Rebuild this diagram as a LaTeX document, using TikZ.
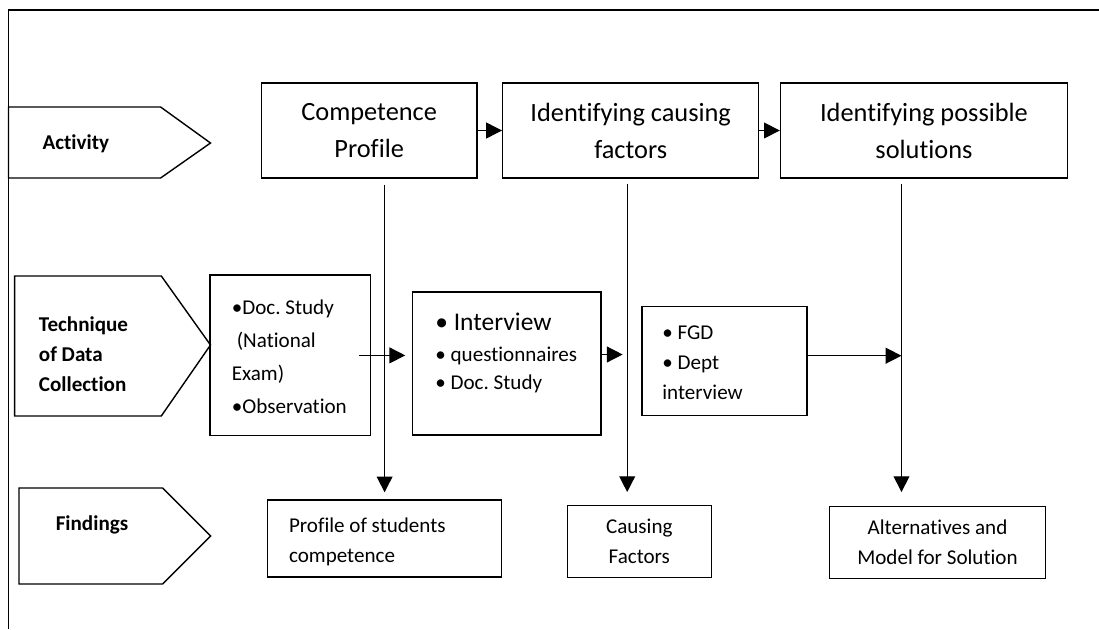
\documentclass[tikz,border=0pt]{standalone}
\usepackage{fontspec}
\setmainfont{Carlito}[Ligatures=NoCommon]
\frenchspacing
\usetikzlibrary{arrows.meta}

\begin{document}
\begin{tikzpicture}[x=0.02cm, y=-0.02cm,
    box/.style={draw, line width=0.8pt, inner sep=0pt},
    head/.style={box, minimum height=1.9cm, align=center, font=\fontsize{15}{21}\selectfont},
    res/.style={box, align=center, font=\fontsize{12}{17}\selectfont},
    txt/.style={anchor=west, align=left, inner sep=0pt, font=\fontsize{12}{17}\selectfont},
    lbl/.style={align=left, inner sep=0pt, font=\fontsize{12}{17}\selectfont\bfseries},
    arr/.style={-{Triangle[length=9pt,width=9pt]}, line width=0.8pt}]

  \useasboundingbox (0,0) rectangle (1099,629);
  % frame
  \draw[line width=0.8pt] (8.5,629) -- (8.5,10) -- (1099,10);

  % row labels
  \draw[line width=0.8pt] (8.5,107) -- (160.6,107) -- (210.5,143) -- (160.6,178) -- (8.5,178) -- cycle;
  \draw[line width=0.8pt] (14.7,276) -- (161.3,276) -- (210.5,345) -- (161.3,416) -- (14.7,416) -- cycle;
  \draw[line width=0.8pt] (19,488) -- (162.7,488) -- (210.7,536) -- (162.7,584) -- (19,584) -- cycle;
  \node[lbl] (act) at (75.8,144) {Activity};
  \node[lbl, anchor=west] (tech) at (38.6,354) {Technique\\of Data\\Collection};
  \node[lbl] (find) at (92,525) {Findings};

  % activities
  \node[head, minimum width=4.31cm] (cp) at (369.2,130.5) {Competence\\Profile};
  \node[head, minimum width=5.12cm] (icf) at (630.7,130.5) {Identifying causing\\factors};
  \node[head, minimum width=5.74cm] (ips) at (924,130.5) {Identifying possible\\solutions};

  % techniques
  \node[box, minimum width=3.21cm, minimum height=3.21cm] (doc) at (290.4,355.4) {};
  \node[txt, font=\fontsize{12}{18.7}\selectfont] (doct) at (231.5,357) {•Doc. Study\\\hspace*{0.1cm}(National\\Exam)\\•Observation};
  \node[box, minimum width=3.77cm, minimum height=2.86cm] (int) at (506.7,363.5) {};
  \node[txt, font=\fontsize{12}{16}\selectfont] (intt) at (435,353) {{\fontsize{14.5}{18}\selectfont • Interview}\\[2pt]• questionnaires\\• Doc. Study};
  \node[box, minimum width=3.3cm, minimum height=2.18cm] (fgd) at (724.4,361.2) {};
  \node[txt] (fgdt) at (662,363) {• FGD\\• Dept\\interview};

  % findings
  \node[box, minimum width=4.68cm, minimum height=1.54cm] (prof) at (384.6,538.5) {};
  \node[txt] (proft) at (288.7,542) {Profile of students\\competence};
  \node[res, minimum width=2.88cm, minimum height=1.43cm] (cf) at (639.3,541.5) {Causing\\Factors};
  \node[res, minimum width=4.31cm, minimum height=1.43cm] (alt) at (937.5,542.5) {Alternatives and\\Model for Solution};

  \coordinate (cpd) at (cp.south -| prof.north);
  \coordinate (icfd) at ([xshift=-0.07cm]icf.south);
  \coordinate (ipsd) at ([xshift=-0.45cm]ips.south);

  \draw[arr] (cp.east) -- (icf.west);
  \draw[arr] (icf.east) -- (ips.west);
  \draw[arr, shorten <=0.12cm, shorten >=0.14cm] (cpd) -- (prof.north);
  \draw[arr, shorten <=0.1cm, shorten >=0.26cm] (icfd) -- (icfd |- cf.north);
  \draw[arr, shorten <=0.1cm, shorten >=0.28cm] (ipsd) -- (ipsd |- alt.north);
  \draw[arr, shorten >=0.13cm] ([xshift=-0.25cm]doc.east) -- (doc.east -| int.west);
  \draw[arr, shorten >=0.09cm] ([yshift=0.18cm]int.east) -- ([yshift=0.18cm]int.east -| icfd);
  \draw[arr] ([yshift=0.11cm]fgd.east) -- ([yshift=0.11cm]fgd.east -| ipsd);
\end{tikzpicture}
\end{document}
